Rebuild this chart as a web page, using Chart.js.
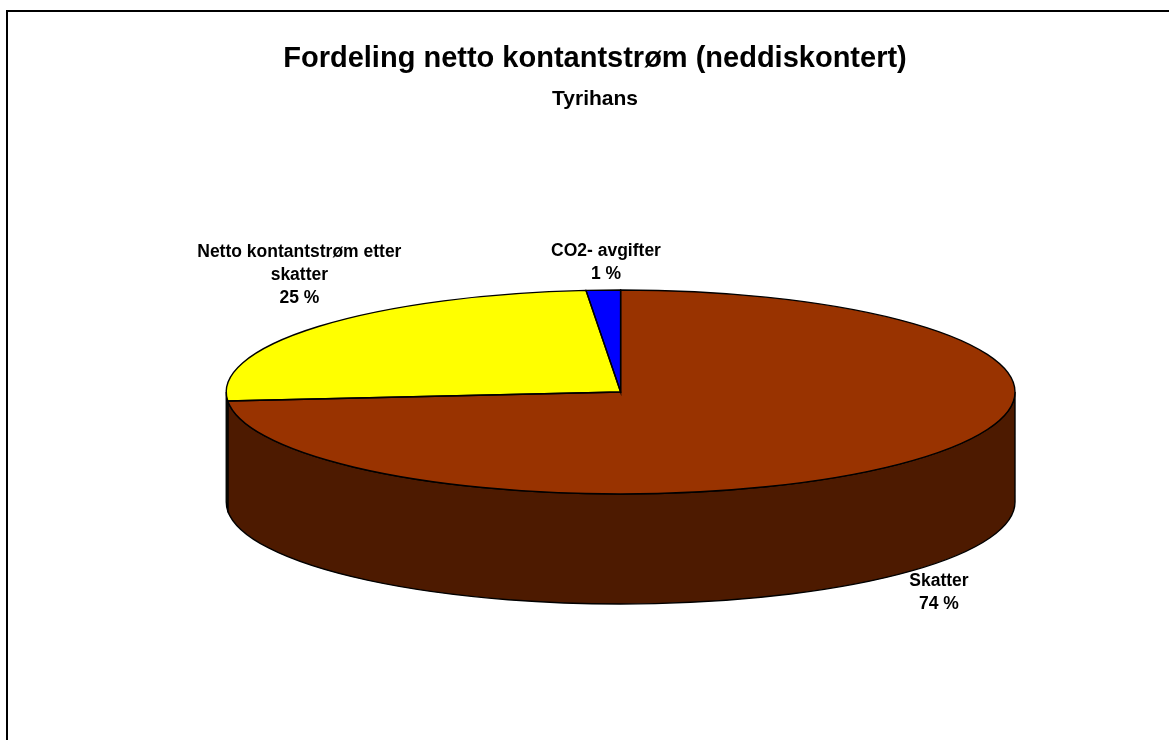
<!DOCTYPE html>
<html>
<head>
<meta charset="utf-8">
<script src="https://cdn.jsdelivr.net/npm/chart.js@4"></script>
<style>
    html, body { margin: 0; padding: 0; background: #fff; overflow: hidden; }
    #frame { position: absolute; left: 6px; top: 10px; width: 1200px; height: 800px; border: 2px solid #000; }
    #pie { position: absolute; left: 0; top: 0; }
</style>
</head>
<body>
<div id="frame"></div>
<canvas id="pie" width="1169" height="740"></canvas>
<script>
// data (share of net cash flow, %)
const categories = [['Skatter'], ['Netto kontantstrøm etter', 'skatter'], ['CO2- avgifter']];
const shares = [73.6, 25.0, 1.4];
const topColors = ['#993300', '#FFFF00', '#0000FF'];
const sideColors = ['#4D1A00', '#808000', '#000080'];

// 3d look
const TILT = 0.2586;   // ry / rx
const DEPTH = 0.279;   // depth / rx
const labelOffsets = [[27.5, 132], [-19, -51.4], [2.7, -27.6]];
const labelFont = 'bold 17.5px "Liberation Sans", Arial, sans-serif';

function geometry(chart) {
    const a = chart.chartArea;
    const rx = (a.bottom - a.top) / (2 * TILT + DEPTH);
    return { cx: a.right - rx, cy: a.top + rx * TILT, rx: rx, ry: rx * TILT, d: rx * DEPTH };
}

const pie3d = {
    id: 'pie3d',
    beforeDatasetsDraw(chart) {
        const ctx = chart.ctx;
        const g = geometry(chart);
        const arcs = chart.getDatasetMeta(0).data;

        // side walls (front half only: 0..PI)
        ctx.save();
        ctx.lineWidth = 1.4;
        ctx.strokeStyle = '#000';
        arcs.forEach((arc, i) => {
            const a = Math.max(arc.startAngle, 0);
            const b = Math.min(arc.endAngle, Math.PI);
            if (b <= a) return;
            ctx.beginPath();
            ctx.ellipse(g.cx, g.cy, g.rx, g.ry, 0, a, b);
            ctx.ellipse(g.cx, g.cy + g.d, g.rx, g.ry, 0, b, a, true);
            ctx.closePath();
            ctx.fillStyle = sideColors[i];
            ctx.fill();
            ctx.stroke();
        });
        ctx.restore();

        // squash the library's round pie into the top ellipse
        const el = arcs[0];
        ctx.save();
        ctx.translate(g.cx, g.cy);
        ctx.scale(g.rx / el.outerRadius, g.ry / el.outerRadius);
        ctx.translate(-el.x, -el.y);
    },
    afterDatasetsDraw(chart) {
        const ctx = chart.ctx;
        ctx.restore();
        const g = geometry(chart);
        const arcs = chart.getDatasetMeta(0).data;
        const total = shares.reduce((s, v) => s + v, 0);

        // outlines of the top face
        ctx.save();
        ctx.lineWidth = 1.4;
        ctx.strokeStyle = '#000';
        arcs.forEach(arc => {
            ctx.beginPath();
            ctx.moveTo(g.cx, g.cy);
            ctx.ellipse(g.cx, g.cy, g.rx, g.ry, 0, arc.startAngle, arc.endAngle);
            ctx.closePath();
            ctx.stroke();
        });

        // data labels
        ctx.font = labelFont;
        ctx.fillStyle = '#000';
        ctx.textAlign = 'center';
        ctx.textBaseline = 'middle';
        const lineH = 23;
        arcs.forEach((arc, i) => {
            const mid = (arc.startAngle + arc.endAngle) / 2;
            const x = g.cx + g.rx * Math.cos(mid) + labelOffsets[i][0];
            const y = g.cy + g.ry * Math.sin(mid) + labelOffsets[i][1];
            const lines = categories[i].concat([Math.round(shares[i] / total * 100) + ' %']);
            const y0 = y - (lines.length - 1) * lineH / 2;
            lines.forEach((t, k) => ctx.fillText(t, x, y0 + k * lineH));
        });
        ctx.restore();
    }
};

const ctx = document.getElementById('pie').getContext('2d');
const chart = new Chart(ctx, {
    type: 'pie',
    data: {
        labels: categories,
        datasets: [{
            data: shares,
            backgroundColor: topColors,
            borderWidth: 0,
            clip: false
        }]
    },
    options: {
        responsive: false,
        animation: false,
        events: [],
        layout: {
            padding: { left: 175, right: 154, top: 0, bottom: 136 }
        },
        plugins: {
            legend: { display: false },
            tooltip: { enabled: false },
            title: {
                display: true,
                text: 'Fordeling netto kontantstrøm (neddiskontert)',
                color: '#000',
                font: { family: '"Liberation Sans", Arial, sans-serif', size: 29, weight: 'bold', lineHeight: 1.2 },
                padding: { top: 42, bottom: 0 }
            },
            subtitle: {
                display: true,
                text: 'Tyrihans',
                color: '#000',
                font: { family: '"Liberation Sans", Arial, sans-serif', size: 21, weight: 'bold', lineHeight: 1.2 },
                padding: { top: 10, bottom: 178 }
            }
        }
    },
    plugins: [pie3d]
});
</script>
</body>
</html>
